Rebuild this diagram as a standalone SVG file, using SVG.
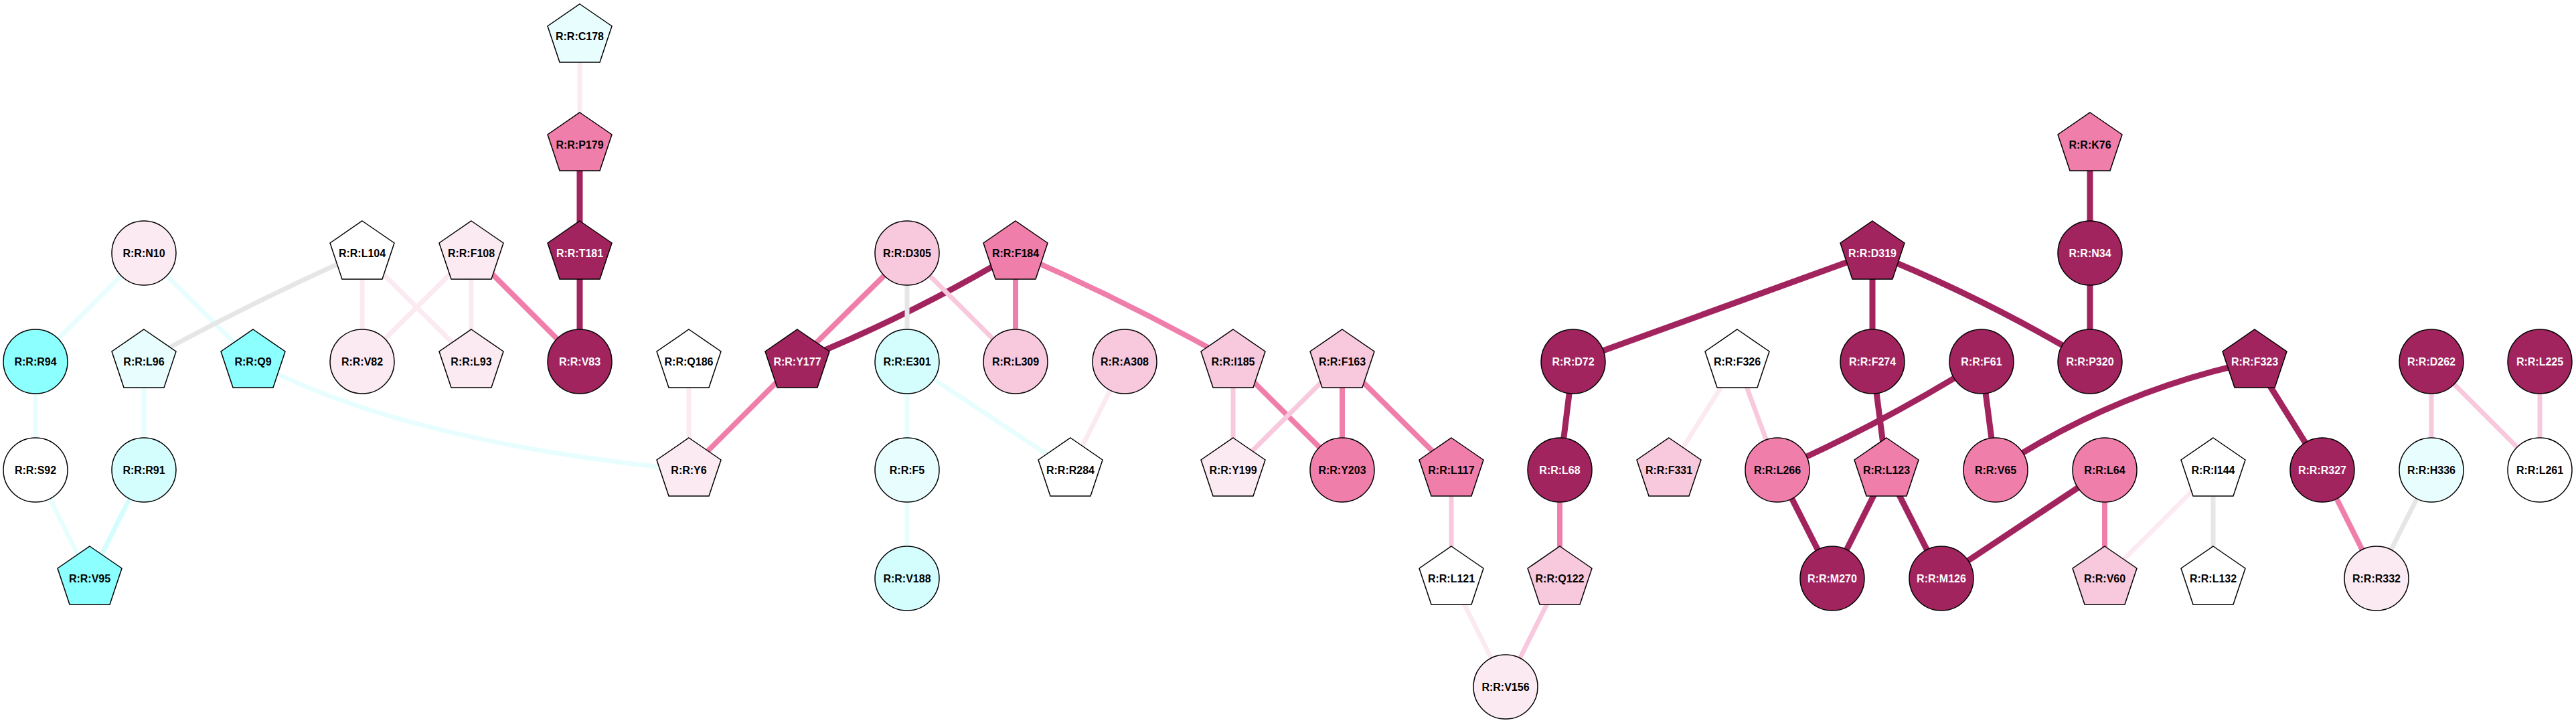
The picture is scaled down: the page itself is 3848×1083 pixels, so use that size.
<svg xmlns="http://www.w3.org/2000/svg" width="3848" height="1083" viewBox="0 0 3848 1083">
<style>
.bg{fill:#ffffff}
.edges path,.edges line{fill:none;stroke-linecap:butt}
.e-d{stroke:#A1245E;stroke-width:9}
.e-m{stroke:#F07EAA;stroke-width:8}
.e-l{stroke:#F8C8DC;stroke-width:7}
.e-v{stroke:#FBEAF2;stroke-width:7}
.e-g{stroke:#E6E6E6;stroke-width:7}
.e-c{stroke:#E8FEFE;stroke-width:7}
.e-c2{stroke:#D4FEFE;stroke-width:7}
.node circle,.node polygon{stroke:#000000;stroke-width:1.5}
.dk{fill:#A1245E}
.mp{fill:#F07EAA}
.lp{fill:#F8C8DC}
.vp{fill:#FBEAF2}
.wh{fill:#FFFFFF}
.cy{fill:#8CFFFF}
.cm{fill:#D4FEFE}
.cl{fill:#E8FEFE}
.node text{font-family:"Liberation Sans",Arial,sans-serif;font-weight:bold;font-size:16px;text-anchor:middle;fill:#000000}
.node text.w{fill:#FFFFFF}
</style>
<rect class="bg" x="0" y="0" width="3848" height="1083"/>
<g id="connectors" class="edges">
<line class="e-c" x1="215" y1="378" x2="53" y2="540"/>
<line class="e-c" x1="215" y1="378" x2="378" y2="540"/>
<path class="e-g" d="M541,378 Q374,452 215,540"/>
<line class="e-v" x1="541" y1="378" x2="541" y2="540"/>
<line class="e-v" x1="541" y1="378" x2="704" y2="540"/>
<line class="e-v" x1="704" y1="378" x2="541" y2="540"/>
<line class="e-v" x1="704" y1="378" x2="704" y2="540"/>
<line class="e-m" x1="704" y1="378" x2="866" y2="540"/>
<line class="e-d" x1="866" y1="378" x2="866" y2="540"/>
<line class="e-d" x1="866" y1="216" x2="866" y2="378"/>
<line class="e-v" x1="866" y1="54" x2="866" y2="216"/>
<line class="e-c" x1="53" y1="540" x2="53" y2="702"/>
<line class="e-c" x1="215" y1="540" x2="215" y2="702"/>
<line class="e-c" x1="53" y1="702" x2="134" y2="864"/>
<line class="e-c2" x1="215" y1="702" x2="134" y2="864"/>
<path class="e-c" d="M378,540 Q600,660 1029,702"/>
<line class="e-v" x1="1029" y1="540" x2="1029" y2="702"/>
<line class="e-m" x1="1191" y1="540" x2="1029" y2="702"/>
<line class="e-m" x1="1355" y1="378" x2="1191" y2="540"/>
<path class="e-d" d="M1517,378 Q1360,472 1191,540"/>
<line class="e-g" x1="1355" y1="378" x2="1355" y2="540"/>
<line class="e-l" x1="1355" y1="378" x2="1517" y2="540"/>
<line class="e-m" x1="1517" y1="378" x2="1517" y2="540"/>
<path class="e-m" d="M1517,378 Q1684,450 1842,540"/>
<line class="e-c" x1="1355" y1="540" x2="1355" y2="702"/>
<line class="e-c" x1="1355" y1="540" x2="1599" y2="702"/>
<line class="e-c" x1="1355" y1="702" x2="1355" y2="864"/>
<line class="e-v" x1="1680" y1="540" x2="1599" y2="702"/>
<line class="e-l" x1="1842" y1="540" x2="1842" y2="702"/>
<line class="e-m" x1="1842" y1="540" x2="2005" y2="702"/>
<line class="e-l" x1="2005" y1="540" x2="1842" y2="702"/>
<line class="e-m" x1="2005" y1="540" x2="2005" y2="702"/>
<line class="e-m" x1="2005" y1="540" x2="2168" y2="702"/>
<line class="e-l" x1="2168" y1="702" x2="2168" y2="864"/>
<line class="e-v" x1="2168" y1="864" x2="2249" y2="1026"/>
<line class="e-l" x1="2330" y1="864" x2="2249" y2="1026"/>
<line class="e-m" x1="2330" y1="702" x2="2330" y2="864"/>
<line class="e-d" x1="2350" y1="540" x2="2330" y2="702"/>
<line class="e-d" x1="2797" y1="378" x2="2350" y2="540"/>
<line class="e-d" x1="2797" y1="378" x2="2797" y2="540"/>
<path class="e-d" d="M2797,378 Q2966,446 3122,540"/>
<line class="e-v" x1="2595" y1="540" x2="2493" y2="702"/>
<line class="e-l" x1="2595" y1="540" x2="2655" y2="702"/>
<line class="e-d" x1="2797" y1="540" x2="2818" y2="702"/>
<path class="e-d" d="M2960,540 Q2813,632 2655,702"/>
<line class="e-d" x1="2960" y1="540" x2="2981" y2="702"/>
<line class="e-d" x1="2655" y1="702" x2="2737" y2="864"/>
<line class="e-d" x1="2818" y1="702" x2="2737" y2="864"/>
<line class="e-d" x1="2818" y1="702" x2="2900" y2="864"/>
<line class="e-d" x1="3144" y1="702" x2="2900" y2="864"/>
<line class="e-m" x1="3144" y1="702" x2="3144" y2="864"/>
<line class="e-v" x1="3306" y1="702" x2="3144" y2="864"/>
<line class="e-g" x1="3306" y1="702" x2="3306" y2="864"/>
<line class="e-d" x1="3122" y1="216" x2="3122" y2="378"/>
<line class="e-d" x1="3122" y1="378" x2="3122" y2="540"/>
<path class="e-d" d="M3368,540 Q3159,584 2981,702"/>
<line class="e-d" x1="3368" y1="540" x2="3469" y2="702"/>
<line class="e-m" x1="3469" y1="702" x2="3550" y2="864"/>
<line class="e-g" x1="3632" y1="702" x2="3550" y2="864"/>
<line class="e-l" x1="3632" y1="540" x2="3632" y2="702"/>
<line class="e-l" x1="3632" y1="540" x2="3794" y2="702"/>
<line class="e-l" x1="3794" y1="540" x2="3794" y2="702"/>
</g>
<g id="nodes">
<g id="n-C178" class="node"><polygon class="cl" points="866,6 914,39 896,93 836,93 818,39"/><text x="866" y="60">R:R:C178</text></g>
<g id="n-P179" class="node"><polygon class="mp" points="866,168 914,201 896,255 836,255 818,201"/><text x="866" y="222">R:R:P179</text></g>
<g id="n-T181" class="node"><polygon class="dk" points="866,330 914,363 896,417 836,417 818,363"/><text class="w" x="866" y="384">R:R:T181</text></g>
<g id="n-N10" class="node"><circle class="vp" cx="215" cy="378" r="48"/><text x="215" y="384">R:R:N10</text></g>
<g id="n-L104" class="node"><polygon class="wh" points="541,330 589,363 571,417 511,417 493,363"/><text x="541" y="384">R:R:L104</text></g>
<g id="n-F108" class="node"><polygon class="vp" points="704,330 752,363 734,417 674,417 656,363"/><text x="704" y="384">R:R:F108</text></g>
<g id="n-R94" class="node"><circle class="cy" cx="53" cy="540" r="48"/><text x="53" y="546">R:R:R94</text></g>
<g id="n-L96" class="node"><polygon class="cl" points="215,492 263,525 245,579 185,579 167,525"/><text x="215" y="546">R:R:L96</text></g>
<g id="n-Q9" class="node"><polygon class="cy" points="378,492 426,525 408,579 348,579 330,525"/><text x="378" y="546">R:R:Q9</text></g>
<g id="n-V82" class="node"><circle class="vp" cx="541" cy="540" r="48"/><text x="541" y="546">R:R:V82</text></g>
<g id="n-L93" class="node"><polygon class="vp" points="704,492 752,525 734,579 674,579 656,525"/><text x="704" y="546">R:R:L93</text></g>
<g id="n-V83" class="node"><circle class="dk" cx="866" cy="540" r="48"/><text class="w" x="866" y="546">R:R:V83</text></g>
<g id="n-S92" class="node"><circle class="wh" cx="53" cy="702" r="48"/><text x="53" y="708">R:R:S92</text></g>
<g id="n-R91" class="node"><circle class="cm" cx="215" cy="702" r="48"/><text x="215" y="708">R:R:R91</text></g>
<g id="n-V95" class="node"><polygon class="cy" points="134,816 182,849 164,903 104,903 86,849"/><text x="134" y="870">R:R:V95</text></g>
<g id="n-Q186" class="node"><polygon class="wh" points="1029,492 1077,525 1059,579 999,579 981,525"/><text x="1029" y="546">R:R:Q186</text></g>
<g id="n-Y6" class="node"><polygon class="vp" points="1029,654 1077,687 1059,741 999,741 981,687"/><text x="1029" y="708">R:R:Y6</text></g>
<g id="n-Y177" class="node"><polygon class="dk" points="1191,492 1239,525 1221,579 1161,579 1143,525"/><text class="w" x="1191" y="546">R:R:Y177</text></g>
<g id="n-D305" class="node"><circle class="lp" cx="1355" cy="378" r="48"/><text x="1355" y="384">R:R:D305</text></g>
<g id="n-F184" class="node"><polygon class="mp" points="1517,330 1565,363 1547,417 1487,417 1469,363"/><text x="1517" y="384">R:R:F184</text></g>
<g id="n-E301" class="node"><circle class="cm" cx="1355" cy="540" r="48"/><text x="1355" y="546">R:R:E301</text></g>
<g id="n-L309" class="node"><circle class="lp" cx="1517" cy="540" r="48"/><text x="1517" y="546">R:R:L309</text></g>
<g id="n-A308" class="node"><circle class="lp" cx="1680" cy="540" r="48"/><text x="1680" y="546">R:R:A308</text></g>
<g id="n-I185" class="node"><polygon class="lp" points="1842,492 1890,525 1872,579 1812,579 1794,525"/><text x="1842" y="546">R:R:I185</text></g>
<g id="n-F163" class="node"><polygon class="lp" points="2005,492 2053,525 2035,579 1975,579 1957,525"/><text x="2005" y="546">R:R:F163</text></g>
<g id="n-F5" class="node"><circle class="cl" cx="1355" cy="702" r="48"/><text x="1355" y="708">R:R:F5</text></g>
<g id="n-V188" class="node"><circle class="cm" cx="1355" cy="864" r="48"/><text x="1355" y="870">R:R:V188</text></g>
<g id="n-R284" class="node"><polygon class="wh" points="1599,654 1647,687 1629,741 1569,741 1551,687"/><text x="1599" y="708">R:R:R284</text></g>
<g id="n-Y199" class="node"><polygon class="vp" points="1842,654 1890,687 1872,741 1812,741 1794,687"/><text x="1842" y="708">R:R:Y199</text></g>
<g id="n-Y203" class="node"><circle class="mp" cx="2005" cy="702" r="48"/><text x="2005" y="708">R:R:Y203</text></g>
<g id="n-L117" class="node"><polygon class="mp" points="2168,654 2216,687 2198,741 2138,741 2120,687"/><text x="2168" y="708">R:R:L117</text></g>
<g id="n-L121" class="node"><polygon class="wh" points="2168,816 2216,849 2198,903 2138,903 2120,849"/><text x="2168" y="870">R:R:L121</text></g>
<g id="n-Q122" class="node"><polygon class="lp" points="2330,816 2378,849 2360,903 2300,903 2282,849"/><text x="2330" y="870">R:R:Q122</text></g>
<g id="n-V156" class="node"><circle class="vp" cx="2249" cy="1026" r="48"/><text x="2249" y="1032">R:R:V156</text></g>
<g id="n-D319" class="node"><polygon class="dk" points="2797,330 2845,363 2827,417 2767,417 2749,363"/><text class="w" x="2797" y="384">R:R:D319</text></g>
<g id="n-D72" class="node"><circle class="dk" cx="2350" cy="540" r="48"/><text class="w" x="2350" y="546">R:R:D72</text></g>
<g id="n-F326" class="node"><polygon class="wh" points="2595,492 2643,525 2625,579 2565,579 2547,525"/><text x="2595" y="546">R:R:F326</text></g>
<g id="n-F274" class="node"><circle class="dk" cx="2797" cy="540" r="48"/><text class="w" x="2797" y="546">R:R:F274</text></g>
<g id="n-F61" class="node"><circle class="dk" cx="2960" cy="540" r="48"/><text class="w" x="2960" y="546">R:R:F61</text></g>
<g id="n-P320" class="node"><circle class="dk" cx="3122" cy="540" r="48"/><text class="w" x="3122" y="546">R:R:P320</text></g>
<g id="n-K76" class="node"><polygon class="mp" points="3122,168 3170,201 3152,255 3092,255 3074,201"/><text x="3122" y="222">R:R:K76</text></g>
<g id="n-N34" class="node"><circle class="dk" cx="3122" cy="378" r="48"/><text class="w" x="3122" y="384">R:R:N34</text></g>
<g id="n-F323" class="node"><polygon class="dk" points="3368,492 3416,525 3398,579 3338,579 3320,525"/><text class="w" x="3368" y="546">R:R:F323</text></g>
<g id="n-D262" class="node"><circle class="dk" cx="3632" cy="540" r="48"/><text class="w" x="3632" y="546">R:R:D262</text></g>
<g id="n-L225" class="node"><circle class="dk" cx="3794" cy="540" r="48"/><text class="w" x="3794" y="546">R:R:L225</text></g>
<g id="n-L68" class="node"><circle class="dk" cx="2330" cy="702" r="48"/><text class="w" x="2330" y="708">R:R:L68</text></g>
<g id="n-F331" class="node"><polygon class="lp" points="2493,654 2541,687 2523,741 2463,741 2445,687"/><text x="2493" y="708">R:R:F331</text></g>
<g id="n-L266" class="node"><circle class="mp" cx="2655" cy="702" r="48"/><text x="2655" y="708">R:R:L266</text></g>
<g id="n-L123" class="node"><polygon class="mp" points="2818,654 2866,687 2848,741 2788,741 2770,687"/><text x="2818" y="708">R:R:L123</text></g>
<g id="n-V65" class="node"><circle class="mp" cx="2981" cy="702" r="48"/><text x="2981" y="708">R:R:V65</text></g>
<g id="n-L64" class="node"><circle class="mp" cx="3144" cy="702" r="48"/><text x="3144" y="708">R:R:L64</text></g>
<g id="n-I144" class="node"><polygon class="wh" points="3306,654 3354,687 3336,741 3276,741 3258,687"/><text x="3306" y="708">R:R:I144</text></g>
<g id="n-R327" class="node"><circle class="dk" cx="3469" cy="702" r="48"/><text class="w" x="3469" y="708">R:R:R327</text></g>
<g id="n-H336" class="node"><circle class="cl" cx="3632" cy="702" r="48"/><text x="3632" y="708">R:R:H336</text></g>
<g id="n-L261" class="node"><circle class="wh" cx="3794" cy="702" r="48"/><text x="3794" y="708">R:R:L261</text></g>
<g id="n-M270" class="node"><circle class="dk" cx="2737" cy="864" r="48"/><text class="w" x="2737" y="870">R:R:M270</text></g>
<g id="n-M126" class="node"><circle class="dk" cx="2900" cy="864" r="48"/><text class="w" x="2900" y="870">R:R:M126</text></g>
<g id="n-V60" class="node"><polygon class="lp" points="3144,816 3192,849 3174,903 3114,903 3096,849"/><text x="3144" y="870">R:R:V60</text></g>
<g id="n-L132" class="node"><polygon class="wh" points="3306,816 3354,849 3336,903 3276,903 3258,849"/><text x="3306" y="870">R:R:L132</text></g>
<g id="n-R332" class="node"><circle class="vp" cx="3550" cy="864" r="48"/><text x="3550" y="870">R:R:R332</text></g>
</g>
</svg>
